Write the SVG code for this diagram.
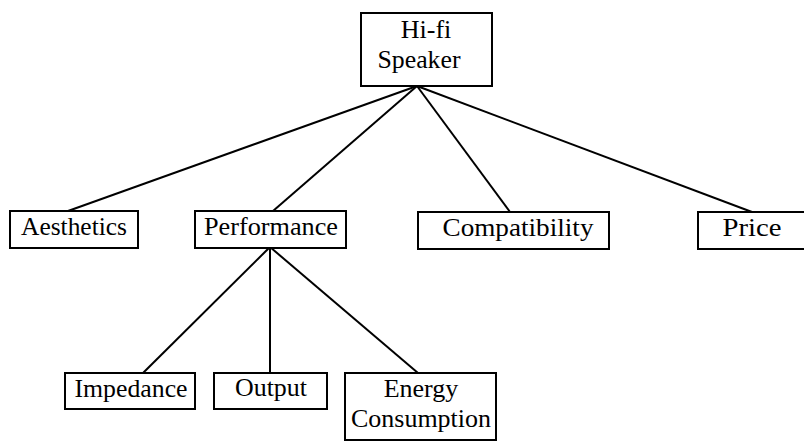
<svg xmlns="http://www.w3.org/2000/svg" width="804" height="441" viewBox="0 0 804 441">
  <style>
    .box { fill: #ffffff; stroke: #000000; stroke-width: 2; }
    .label { font-size: 26px; fill: #000000; text-anchor: middle; }
    .link { stroke: #000000; stroke-width: 2; fill: none; }
  </style>
  <rect width="804" height="441" fill="#ffffff"/>

  <!-- connectors -->
  <g id="connectors">
    <line class="link" x1="417" y1="86" x2="68" y2="211"/>
    <line class="link" x1="417" y1="86" x2="273" y2="211"/>
    <line class="link" x1="417" y1="86" x2="510" y2="212"/>
    <line class="link" x1="417" y1="86" x2="752" y2="212"/>
    <line class="link" x1="270" y1="247" x2="143" y2="373"/>
    <line class="link" x1="270" y1="247" x2="270" y2="373"/>
    <line class="link" x1="270" y1="247" x2="418" y2="373"/>
  </g>

  <g font-family="Liberation Serif, DejaVu Serif, serif">
    <!-- root -->
    <g id="hifi-speaker">
      <rect class="box" x="361" y="13" width="131" height="73"/>
      <text class="label" x="426" y="38">Hi-fi</text>
      <text class="label" x="419" y="68" textLength="83" lengthAdjust="spacingAndGlyphs">Speaker</text>
    </g>

    <!-- first level -->
    <g id="aesthetics">
      <rect class="box" x="10" y="211" width="128" height="37"/>
      <text class="label" x="74" y="235" textLength="106" lengthAdjust="spacingAndGlyphs">Aesthetics</text>
    </g>
    <g id="performance">
      <rect class="box" x="195" y="211" width="151" height="37"/>
      <text class="label" x="271" y="235" textLength="134" lengthAdjust="spacingAndGlyphs">Performance</text>
    </g>
    <g id="compatibility">
      <rect class="box" x="418" y="212" width="191" height="37"/>
      <text class="label" x="518" y="236" textLength="151" lengthAdjust="spacingAndGlyphs">Compatibility</text>
    </g>
    <g id="price">
      <rect class="box" x="698" y="212" width="108" height="37"/>
      <text class="label" x="752" y="236" textLength="59" lengthAdjust="spacingAndGlyphs">Price</text>
    </g>

    <!-- second level -->
    <g id="impedance">
      <rect class="box" x="65" y="373" width="130" height="36"/>
      <text class="label" x="131" y="397" textLength="113" lengthAdjust="spacingAndGlyphs">Impedance</text>
    </g>
    <g id="output">
      <rect class="box" x="214" y="373" width="113" height="36"/>
      <text class="label" x="271" y="396" textLength="72" lengthAdjust="spacingAndGlyphs">Output</text>
    </g>
    <g id="energy-consumption">
      <rect class="box" x="345" y="373" width="151" height="67"/>
      <text class="label" x="421" y="397">Energy</text>
      <text class="label" x="421" y="427" textLength="140" lengthAdjust="spacingAndGlyphs">Consumption</text>
    </g>
  </g>
</svg>
